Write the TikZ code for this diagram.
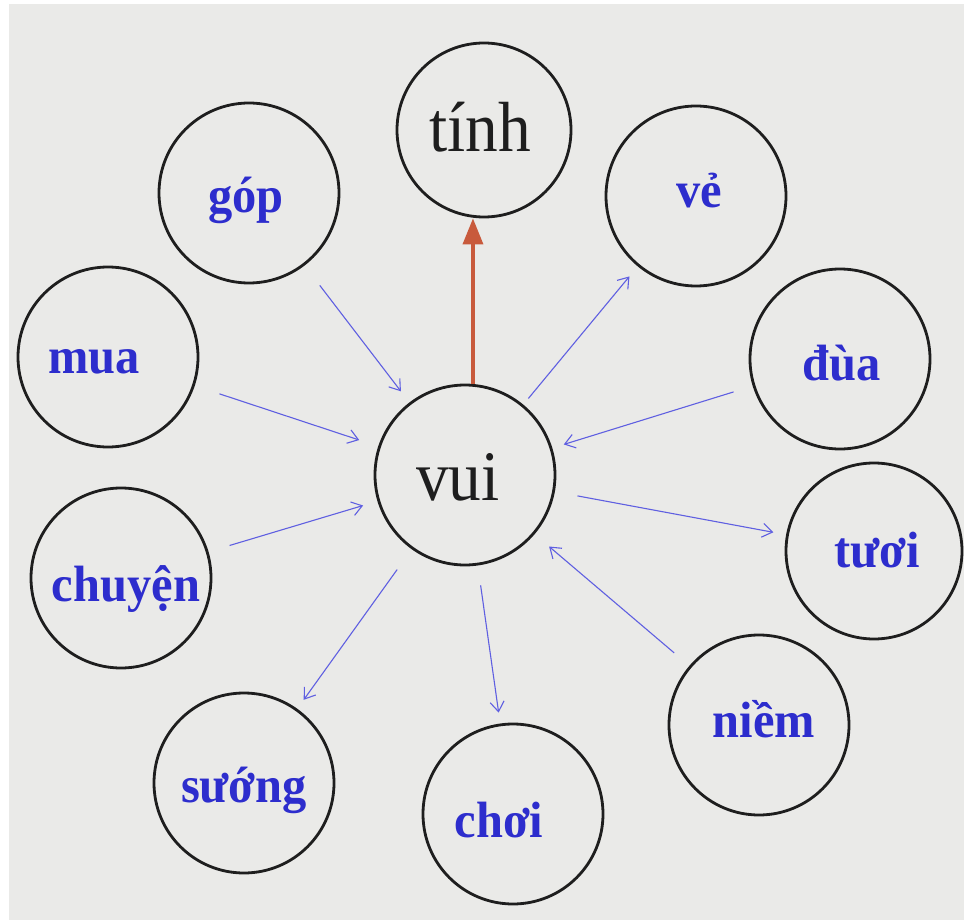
\documentclass[tikz,border=0pt]{standalone}
\usepackage{fontspec}
\setmainfont{Liberation Serif}
\newfontfamily\wordfont[FakeStretch=0.95]{Liberation Serif}
\newfontfamily\corefont[FakeStretch=0.92]{Liberation Serif}
\usetikzlibrary{arrows.meta,calc}
\definecolor{bg}{RGB}{234,234,232}
\definecolor{ink}{RGB}{30,30,30}
\definecolor{wordblue}{RGB}{45,45,205}
\definecolor{linkblue}{RGB}{95,95,225}
\definecolor{redarrow}{RGB}{200,90,60}
\begin{document}
\begin{tikzpicture}[x=1pt,y=-1pt,
  bubble/.style={circle,draw=ink,line width=2.8pt,minimum size=180pt,inner sep=0pt},
  lbl/.style={anchor=base,inner sep=0pt,font=\wordfont\fontsize{51}{51}\selectfont\bfseries,text=wordblue},
  core/.style={anchor=base,inner sep=0pt,font=\corefont\fontsize{71}{71}\selectfont,text=ink},
  link/.style={draw=linkblue,line width=1.1pt,-{Straight Barb[length=10pt,width=14pt]}},
]
\useasboundingbox (0,0) rectangle (964,920);
\fill[white] (0,0) rectangle (964,920);
\fill[bg] (9,4) rectangle (964,920);

% circles
\node[bubble,minimum size=174pt] (tinh) at (484,130) {};
\node[bubble] (gop) at (249,193) {};
\node[bubble] (ve) at (696,196) {};
\node[bubble] (mua) at (108,357) {};
\node[bubble] (dua) at (840,359) {};
\node[bubble] (vui) at (465,475) {};
\node[bubble] (chuyen) at (121,578) {};
\node[bubble,minimum size=176pt] (tuoi) at (874,551) {};
\node[bubble] (niem) at (759,725) {};
\node[bubble] (suong) at (244,783) {};
\node[bubble] (choi) at (513,814) {};

% labels
\node[core] (ttinh) at (480,152) {tính};
\node[core] (tvui) at (458,500) {vui};
\node[lbl] (tgop) at (246,213) {góp};
\node[lbl] (tve) at (699,208) {vẻ};
\node[lbl] (tmua) at (94,373) {mua};
\node[lbl] (tdua) at (842,380) {đùa};
\node[lbl] (tchuyen) at (126,601) {chuyện};
\node[lbl] (ttuoi) at (877,567) {tươi};
\node[lbl] (tniem) at (764,737) {niềm};
\node[lbl] (tsuong) at (244,802) {sướng};
\node[lbl] (tchoi) at (499,837) {chơi};

% connectors
\draw[draw=redarrow,line width=3.5pt,-{Triangle[length=26pt,width=20pt]}]
  (vui.85) -- (vui.85 |- tinh.south);
\draw[link,shorten <=25pt,shorten >=14pt] (gop) -- (vui);
\draw[link,shorten <=26pt,shorten >=20pt] (mua) -- (vui);
\draw[link,shorten <=8pt,shorten >=13pt] (vui) -- (ve);
\draw[link,shorten <=20pt,shorten >=12pt] (dua) -- (vui);
\draw[link,shorten <=22pt,shorten >=15pt] (chuyen) -- (vui);
\draw[link,shorten <=23pt,shorten >=13pt] (vui) -- (tuoi);
\draw[link,shorten <=20pt,shorten >=19pt] (niem) -- (vui);
\draw[link,shorten <=25pt,shorten >=11pt] (vui) -- (suong);
\draw[link,shorten <=20pt,shorten >=11pt] (vui) -- (choi);
\end{tikzpicture}
\end{document}
